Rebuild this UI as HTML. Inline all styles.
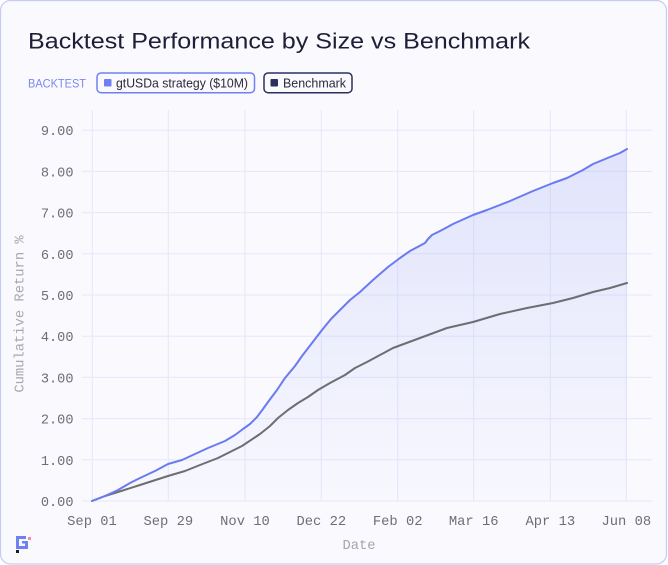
<!DOCTYPE html>
<html>
<head>
<meta charset="utf-8">
<style>
  html,body{margin:0;padding:0;background:#ffffff;}
  body{width:668px;height:565px;overflow:hidden;}
  svg{display:block;}
  .mono{font-family:"Liberation Mono",monospace;}
  .sans{font-family:"Liberation Sans",sans-serif;}
</style>
</head>
<body>
<svg width="668" height="565" viewBox="0 0 668 565" xmlns="http://www.w3.org/2000/svg">
  <defs>
    <linearGradient id="fillg" x1="0" y1="149" x2="0" y2="501" gradientUnits="userSpaceOnUse">
      <stop offset="0" stop-color="#6a7bf0" stop-opacity="0.17"/>
      <stop offset="1" stop-color="#6a7bf0" stop-opacity="0.01"/>
    </linearGradient>
  </defs>
  <!-- card -->
  <rect x="0.5" y="0.5" width="666" height="563.5" rx="10" ry="10" fill="#f9f9fe" stroke="#c4cbf6" stroke-width="1.2"/>

  <!-- title -->
  <text x="28" y="48.5" class="sans" font-size="22.5" fill="#1e1f36" textLength="502" lengthAdjust="spacingAndGlyphs">Backtest Performance by Size vs Benchmark</text>

  <!-- legend -->
  <text x="28" y="87.5" class="sans" font-size="12" fill="#7c87f2" textLength="58" lengthAdjust="spacingAndGlyphs">BACKTEST</text>
  <rect x="97" y="73" width="157.5" height="19.7" rx="4" fill="#f9f9fe" stroke="#6e80f4" stroke-width="1.5"/>
  <rect x="104" y="79" width="7.5" height="7.5" rx="1" fill="#6e80f4"/>
  <text x="116" y="87.5" class="sans" font-size="13" fill="#2a2b3c" textLength="132" lengthAdjust="spacingAndGlyphs">gtUSDa strategy ($10M)</text>
  <rect x="264" y="73" width="88" height="19.7" rx="4" fill="#f9f9fe" stroke="#2c3060" stroke-width="1.5"/>
  <rect x="270.5" y="79" width="7.5" height="7.5" rx="1" fill="#2a2f5e"/>
  <text x="283" y="87.5" class="sans" font-size="13" fill="#2a2b3c" textLength="63" lengthAdjust="spacingAndGlyphs">Benchmark</text>

  <!-- grid -->
  <g stroke="#e5e7fb" stroke-width="1">
    <line x1="82" y1="501" x2="652" y2="501"/>
    <line x1="82" y1="459.8" x2="652" y2="459.8"/>
    <line x1="82" y1="418.6" x2="652" y2="418.6"/>
    <line x1="82" y1="377.4" x2="652" y2="377.4"/>
    <line x1="82" y1="336.2" x2="652" y2="336.2"/>
    <line x1="82" y1="295" x2="652" y2="295"/>
    <line x1="82" y1="253.8" x2="652" y2="253.8"/>
    <line x1="82" y1="212.6" x2="652" y2="212.6"/>
    <line x1="82" y1="171.4" x2="652" y2="171.4"/>
    <line x1="82" y1="130.2" x2="652" y2="130.2"/>
    <line x1="92.3" y1="110" x2="92.3" y2="501"/>
    <line x1="168.3" y1="110" x2="168.3" y2="501"/>
    <line x1="245" y1="110" x2="245" y2="501"/>
    <line x1="321.3" y1="110" x2="321.3" y2="501"/>
    <line x1="397.7" y1="110" x2="397.7" y2="501"/>
    <line x1="473.7" y1="110" x2="473.7" y2="501"/>
    <line x1="550.3" y1="110" x2="550.3" y2="501"/>
    <line x1="626.3" y1="110" x2="626.3" y2="501"/>
  </g>

  <!-- y tick labels -->
  <g class="mono" font-size="13.6" fill="#6e6e78" text-anchor="end">
    <text x="73.5" y="506">0.00</text>
    <text x="73.5" y="464.8">1.00</text>
    <text x="73.5" y="423.6">2.00</text>
    <text x="73.5" y="382.4">3.00</text>
    <text x="73.5" y="341.2">4.00</text>
    <text x="73.5" y="300">5.00</text>
    <text x="73.5" y="258.8">6.00</text>
    <text x="73.5" y="217.6">7.00</text>
    <text x="73.5" y="176.4">8.00</text>
    <text x="73.5" y="135.2">9.00</text>
  </g>

  <!-- x tick labels -->
  <g class="mono" font-size="13.8" fill="#6e6e78" text-anchor="middle">
    <text x="92" y="525">Sep 01</text>
    <text x="168.3" y="525">Sep 29</text>
    <text x="245" y="525">Nov 10</text>
    <text x="321.3" y="525">Dec 22</text>
    <text x="397.7" y="525">Feb 02</text>
    <text x="473.7" y="525">Mar 16</text>
    <text x="550.3" y="525">Apr 13</text>
    <text x="626.3" y="525">Jun 08</text>
  </g>

  <!-- axis titles -->
  <text x="359" y="549" class="mono" font-size="13.8" fill="#a4a4ad" text-anchor="middle">Date</text>
  <text transform="translate(23.5,314) rotate(-90)" class="mono" font-size="13.8" fill="#a8a8b0" text-anchor="middle">Cumulative Return %</text>

  <!-- fill under strategy -->
  <path fill="url(#fillg)" stroke="none" d="M92,501 L105,496 L118,490 L130,483 L140,478 L155,471 L168,464 L182,460 L195,454 L208,448 L225,441 L235,435 L243,429 L250,424 L257,417 L263,409 L268,402 L277,390 L285,378 L295,366 L302,356 L312,343 L322,330 L331,319 L340,310 L350,300 L360,292 L373,280 L388,267 L400,258 L410,251 L425,243 L428,239 L432,235 L442,230 L453,224 L473,215 L487,210 L510,201 L533,191 L553,183 L567,178 L583,170 L593,164 L610,157 L620,153 L627,149 L627,501 Z"/>

  <!-- benchmark line -->
  <polyline fill="none" stroke="#6d6d72" stroke-width="2" stroke-linejoin="round" stroke-linecap="round" points="92,501 105,496 118,492 140,485 168,476 185,471 200,465 218,458 230,452 242,446 260,434 270,426 278,418 288,410 298,403 308,397 318,390 330,383 345,375 355,368 367,362 380,355 393,348 420,338 447,328 473,322 500,314 527,308 553,303 573,298 593,292 610,288 627,283"/>

  <!-- strategy line -->
  <polyline fill="none" stroke="#6a7bf0" stroke-width="2" stroke-linejoin="round" stroke-linecap="round" points="92,501 105,496 118,490 130,483 140,478 155,471 168,464 182,460 195,454 208,448 225,441 235,435 243,429 250,424 257,417 263,409 268,402 277,390 285,378 295,366 302,356 312,343 322,330 331,319 340,310 350,300 360,292 373,280 388,267 400,258 410,251 425,243 428,239 432,235 442,230 453,224 473,215 487,210 510,201 533,191 553,183 567,178 583,170 593,164 610,157 620,153 627,149"/>

  <!-- logo -->
  <g fill="#6e80f4">
    <rect x="16" y="536" width="10" height="3"/>
    <rect x="16" y="536" width="3" height="13"/>
    <rect x="16" y="546" width="12" height="3"/>
    <rect x="25" y="541" width="3" height="8"/>
    <rect x="22" y="541" width="6" height="2.5"/>
  </g>
  <rect x="28" y="537" width="3" height="3" fill="#f78aa6"/>
  <rect x="16" y="550" width="3" height="3" fill="#1a1a24"/>
</svg>
</body>
</html>
